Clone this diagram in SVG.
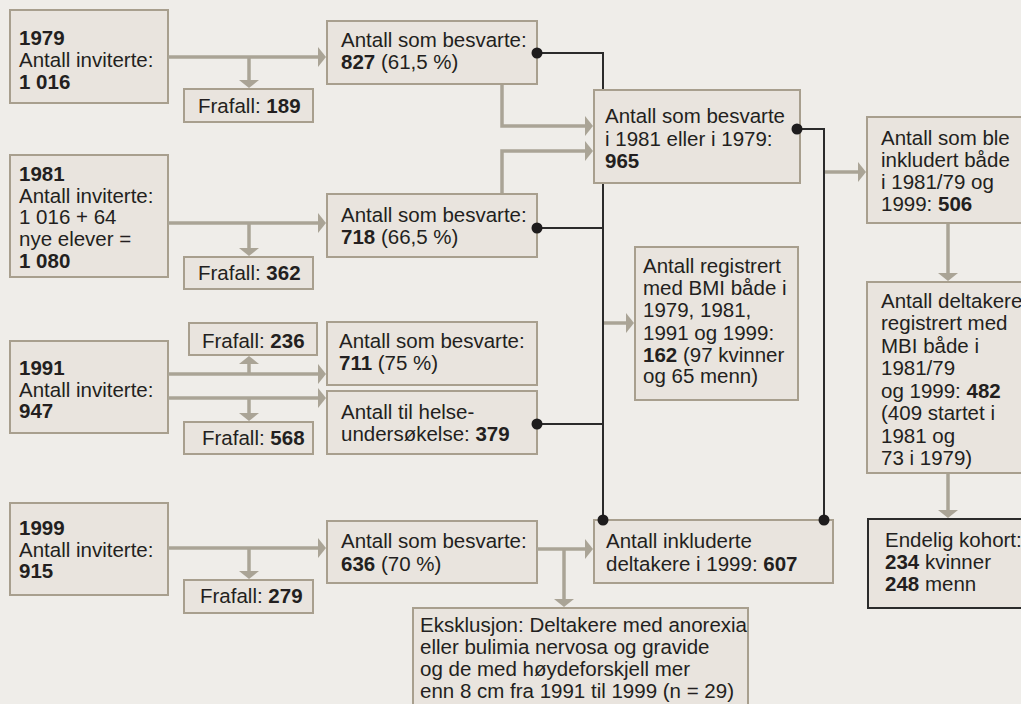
<svg xmlns="http://www.w3.org/2000/svg" width="1021" height="704" viewBox="0 0 1021 704">
<style>
.bg{fill:#efede9}
.box{fill:#e9e4de;stroke:#a89f8e;stroke-width:2}
.dark{fill:#e9e4de;stroke:#2b2b2b;stroke-width:2}
text{font-family:"Liberation Sans",Arial,sans-serif;font-size:20.5px;fill:#231f20}
.b{font-weight:bold}
.g{fill:none;stroke:#aaa496;stroke-width:3.5}
.k{fill:none;stroke:#2b2b2b;stroke-width:2}
.dot{fill:#1e1c1d}
</style>
<defs>
<marker id="ah" markerUnits="userSpaceOnUse" markerWidth="8" markerHeight="20" refX="3" refY="10" orient="auto" viewBox="0 0 8 20">
<path d="M0,0 L8,10 L0,20 Z" fill="#aaa496"/>
</marker>
</defs>
<rect class="bg" x="0" y="0" width="1021" height="704"/>

<g id="n1979"><rect class="box" x="10" y="10" width="158" height="93"/>
<text x="19" y="45" class="b">1979</text><text x="19" y="67">Antall inviterte:</text><text x="19" y="89" class="b">1 016</text></g>
<g id="f189"><rect class="box" x="184" y="89" width="129" height="33"/>
<text x="198" y="113">Frafall: <tspan class="b">189</tspan></text></g>
<g id="n1981"><rect class="box" x="10" y="155" width="158" height="122"/>
<text x="19" y="181" class="b">1981</text><text x="19" y="203">Antall inviterte:</text><text x="19" y="224">1 016 + 64</text><text x="19" y="246">nye elever =</text><text x="19" y="268" class="b">1 080</text></g>
<g id="f362"><rect class="box" x="184" y="257" width="129" height="32"/>
<text x="198" y="280">Frafall: <tspan class="b">362</tspan></text></g>
<g id="b827"><rect class="box" x="327" y="21" width="210" height="63"/>
<text x="341" y="47">Antall som besvarte:</text><text x="341" y="69"><tspan class="b">827</tspan> (61,5 %)</text></g>
<g id="b718"><rect class="box" x="327" y="194" width="210" height="63"/>
<text x="341" y="222">Antall som besvarte:</text><text x="341" y="244"><tspan class="b">718</tspan> (66,5 %)</text></g>
<g id="b965"><rect class="box" x="594" y="90" width="206" height="93"/>
<text x="605" y="123">Antall som besvarte</text><text x="605" y="146">i 1981 eller i 1979:</text><text x="605" y="168" class="b">965</text></g>
<g id="bBMI"><rect class="box" x="635" y="247" width="163" height="153"/>
<text x="643" y="273">Antall registrert</text><text x="643" y="295">med BMI både i</text><text x="643" y="317">1979, 1981,</text><text x="643" y="340">1991 og 1999:</text><text x="643" y="362"><tspan class="b">162</tspan> (97 kvinner</text><text x="643" y="383">og 65 menn)</text></g>
<g id="f236"><rect class="box" x="189" y="323" width="128" height="32"/>
<text x="202" y="348">Frafall: <tspan class="b">236</tspan></text></g>
<g id="n1991"><rect class="box" x="10" y="341" width="158" height="92"/>
<text x="19" y="375" class="b">1991</text><text x="19" y="397">Antall inviterte:</text><text x="19" y="418" class="b">947</text></g>
<g id="b711"><rect class="box" x="327" y="322" width="210" height="63"/>
<text x="339" y="348">Antall som besvarte:</text><text x="339" y="370"><tspan class="b">711</tspan> (75 %)</text></g>
<g id="bHelse"><rect class="box" x="327" y="391" width="210" height="63"/>
<text x="341" y="419">Antall til helse-</text><text x="341" y="441">undersøkelse: <tspan class="b">379</tspan></text></g>
<g id="f568"><rect class="box" x="184" y="422" width="129" height="32"/>
<text x="202" y="445">Frafall: <tspan class="b">568</tspan></text></g>
<g id="n1999"><rect class="box" x="10" y="503" width="158" height="92"/>
<text x="19" y="535" class="b">1999</text><text x="19" y="557">Antall inviterte:</text><text x="19" y="578" class="b">915</text></g>
<g id="f279"><rect class="box" x="184" y="580" width="129" height="33"/>
<text x="200" y="603">Frafall: <tspan class="b">279</tspan></text></g>
<g id="b636"><rect class="box" x="327" y="521" width="210" height="62"/>
<text x="341" y="548">Antall som besvarte:</text><text x="341" y="571"><tspan class="b">636</tspan> (70 %)</text></g>
<g id="b607"><rect class="box" x="594" y="520" width="239" height="63"/>
<text x="606" y="548">Antall inkluderte</text><text x="606" y="571">deltakere i 1999: <tspan class="b">607</tspan></text></g>
<g id="bEks"><rect class="box" x="413" y="608" width="335" height="110"/>
<text x="420" y="632">Eksklusjon: Deltakere med anorexia</text><text x="420" y="654">eller bulimia nervosa og gravide</text><text x="420" y="676">og de med høydeforskjell mer</text><text x="420" y="698">enn 8 cm fra 1991 til 1999 (n = 29)</text></g>
<g id="b506"><rect class="box" x="867" y="117" width="165" height="106"/>
<text x="881" y="145">Antall som ble</text><text x="881" y="167">inkludert både</text><text x="881" y="189">i 1981/79 og</text><text x="881" y="211">1999: <tspan class="b">506</tspan></text></g>
<g id="b482"><rect class="box" x="867" y="282" width="165" height="191"/>
<text x="881" y="308">Antall deltakere</text><text x="881" y="330">registrert med</text><text x="881" y="353">MBI både i</text><text x="881" y="375">1981/79</text><text x="881" y="398">og 1999: <tspan class="b">482</tspan></text><text x="881" y="420">(409 startet i</text><text x="881" y="443">1981 og</text><text x="881" y="465">73 i 1979)</text></g>
<g id="bEnd"><rect class="dark" x="868" y="519" width="165" height="89"/>
<text x="885" y="547">Endelig kohort:</text><text x="885" y="569"><tspan class="b">234</tspan> kvinner</text><text x="885" y="591"><tspan class="b">248</tspan> menn</text></g>

<g id="connectors">
<path class="g" marker-end="url(#ah)" d="M168,57 H321"/>
<path class="g" marker-end="url(#ah)" d="M249,57 V83"/>
<path class="g" marker-end="url(#ah)" d="M168,223 H321"/>
<path class="g" marker-end="url(#ah)" d="M249,223 V251"/>
<path class="g" marker-end="url(#ah)" d="M168,374 H321"/>
<path class="g" marker-end="url(#ah)" d="M249,374 V361"/>
<path class="g" marker-end="url(#ah)" d="M168,398 H321"/>
<path class="g" marker-end="url(#ah)" d="M249,398 V416"/>
<path class="g" marker-end="url(#ah)" d="M168,548 H321"/>
<path class="g" marker-end="url(#ah)" d="M249,548 V574"/>
<path class="g" marker-end="url(#ah)" d="M502,85 V126 H588"/>
<path class="g" marker-end="url(#ah)" d="M502,193 V151 H588"/>
<path class="g" marker-end="url(#ah)" d="M603,323 H629"/>
<path class="g" marker-end="url(#ah)" d="M537,549 H588"/>
<path class="g" marker-end="url(#ah)" d="M564,549 V602"/>
<path class="g" marker-end="url(#ah)" d="M824,172 H861"/>
<path class="g" marker-end="url(#ah)" d="M948,224 V276"/>
<path class="g" marker-end="url(#ah)" d="M948,474 V513"/>
<path class="k" d="M537,53 H603 V89"/>
<path class="k" d="M603,184 V520"/>
<path class="k" d="M537,228 H603"/>
<path class="k" d="M537,424 H603"/>
<path class="k" d="M797,129 H824 V520"/>
<circle class="dot" cx="537" cy="53" r="5.5"/>
<circle class="dot" cx="537" cy="228" r="5.5"/>
<circle class="dot" cx="537" cy="424" r="5.5"/>
<circle class="dot" cx="797" cy="129" r="5.5"/>
<circle class="dot" cx="603" cy="520" r="5.5"/>
<circle class="dot" cx="824" cy="520" r="5.5"/>
</g>
</svg>
